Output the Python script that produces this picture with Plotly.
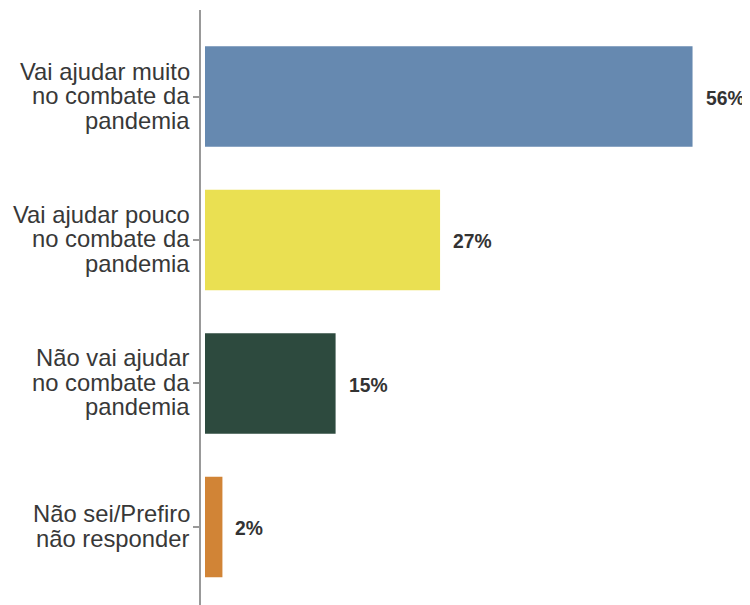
import plotly.graph_objects as go

categories = [
    "Vai ajudar muito<br>no combate da<br>pandemia",
    "Vai ajudar pouco<br>no combate da<br>pandemia",
    "Não vai ajudar<br>no combate da<br>pandemia",
    "Não sei/Prefiro<br>não responder",
]
values = [56, 27, 15, 2]
value_labels = ["56%", "27%", "15%", "2%"]
colors = ["#6689B0", "#EAE052", "#2D4A3E", "#D18436"]

fig = go.Figure()
fig.add_trace(go.Bar(
    x=values, y=categories, orientation="h",
    marker=dict(color=colors, line=dict(width=0)),
    width=0.70, hoverinfo="skip",
))

annotations = []
LINE = 24.5
for cat, v, lab in zip(categories, values, value_labels):
    lines = cat.split("<br>")
    n = len(lines)
    for i, ln in enumerate(lines):
        off = (i - (n - 1) / 2) * LINE
        annotations.append(dict(
            x=0, xref="paper", y=cat, yref="y", text=ln, showarrow=False,
            xanchor="right", yanchor="middle", xshift=-10, yshift=-off + 1,
            borderpad=0,
            font=dict(family="Liberation Sans, Arial, sans-serif", size=23.8, color="#383838"),
        ))
    annotations.append(dict(
        x=v, xref="x", y=cat, yref="y", text="<b>%s</b>" % lab, showarrow=False,
        xanchor="left", yanchor="middle", xshift=12, yshift=-2, borderpad=0,
        font=dict(family="Liberation Sans, Arial, sans-serif", size=19.3, color="#333333"),
    ))

fig.update_layout(
    width=750, height=597,
    margin=dict(l=193, r=8, t=2, b=0),
    plot_bgcolor="white", paper_bgcolor="white",
    showlegend=False,
    bargap=0.3,
    annotations=annotations,
    xaxis=dict(range=[-0.46, 62.6], showgrid=False, zeroline=False,
               showticklabels=False, ticks="", showline=False, fixedrange=True),
    yaxis=dict(type="category", categoryorder="array", categoryarray=categories,
               range=[3.544, -0.603], showgrid=False, zeroline=False,
               showticklabels=False, ticks="outside", ticklen=6, tickwidth=2,
               tickcolor="#999999", showline=True, linecolor="#999999", linewidth=2,
               fixedrange=True),
)

fig.write_html("out.html")
